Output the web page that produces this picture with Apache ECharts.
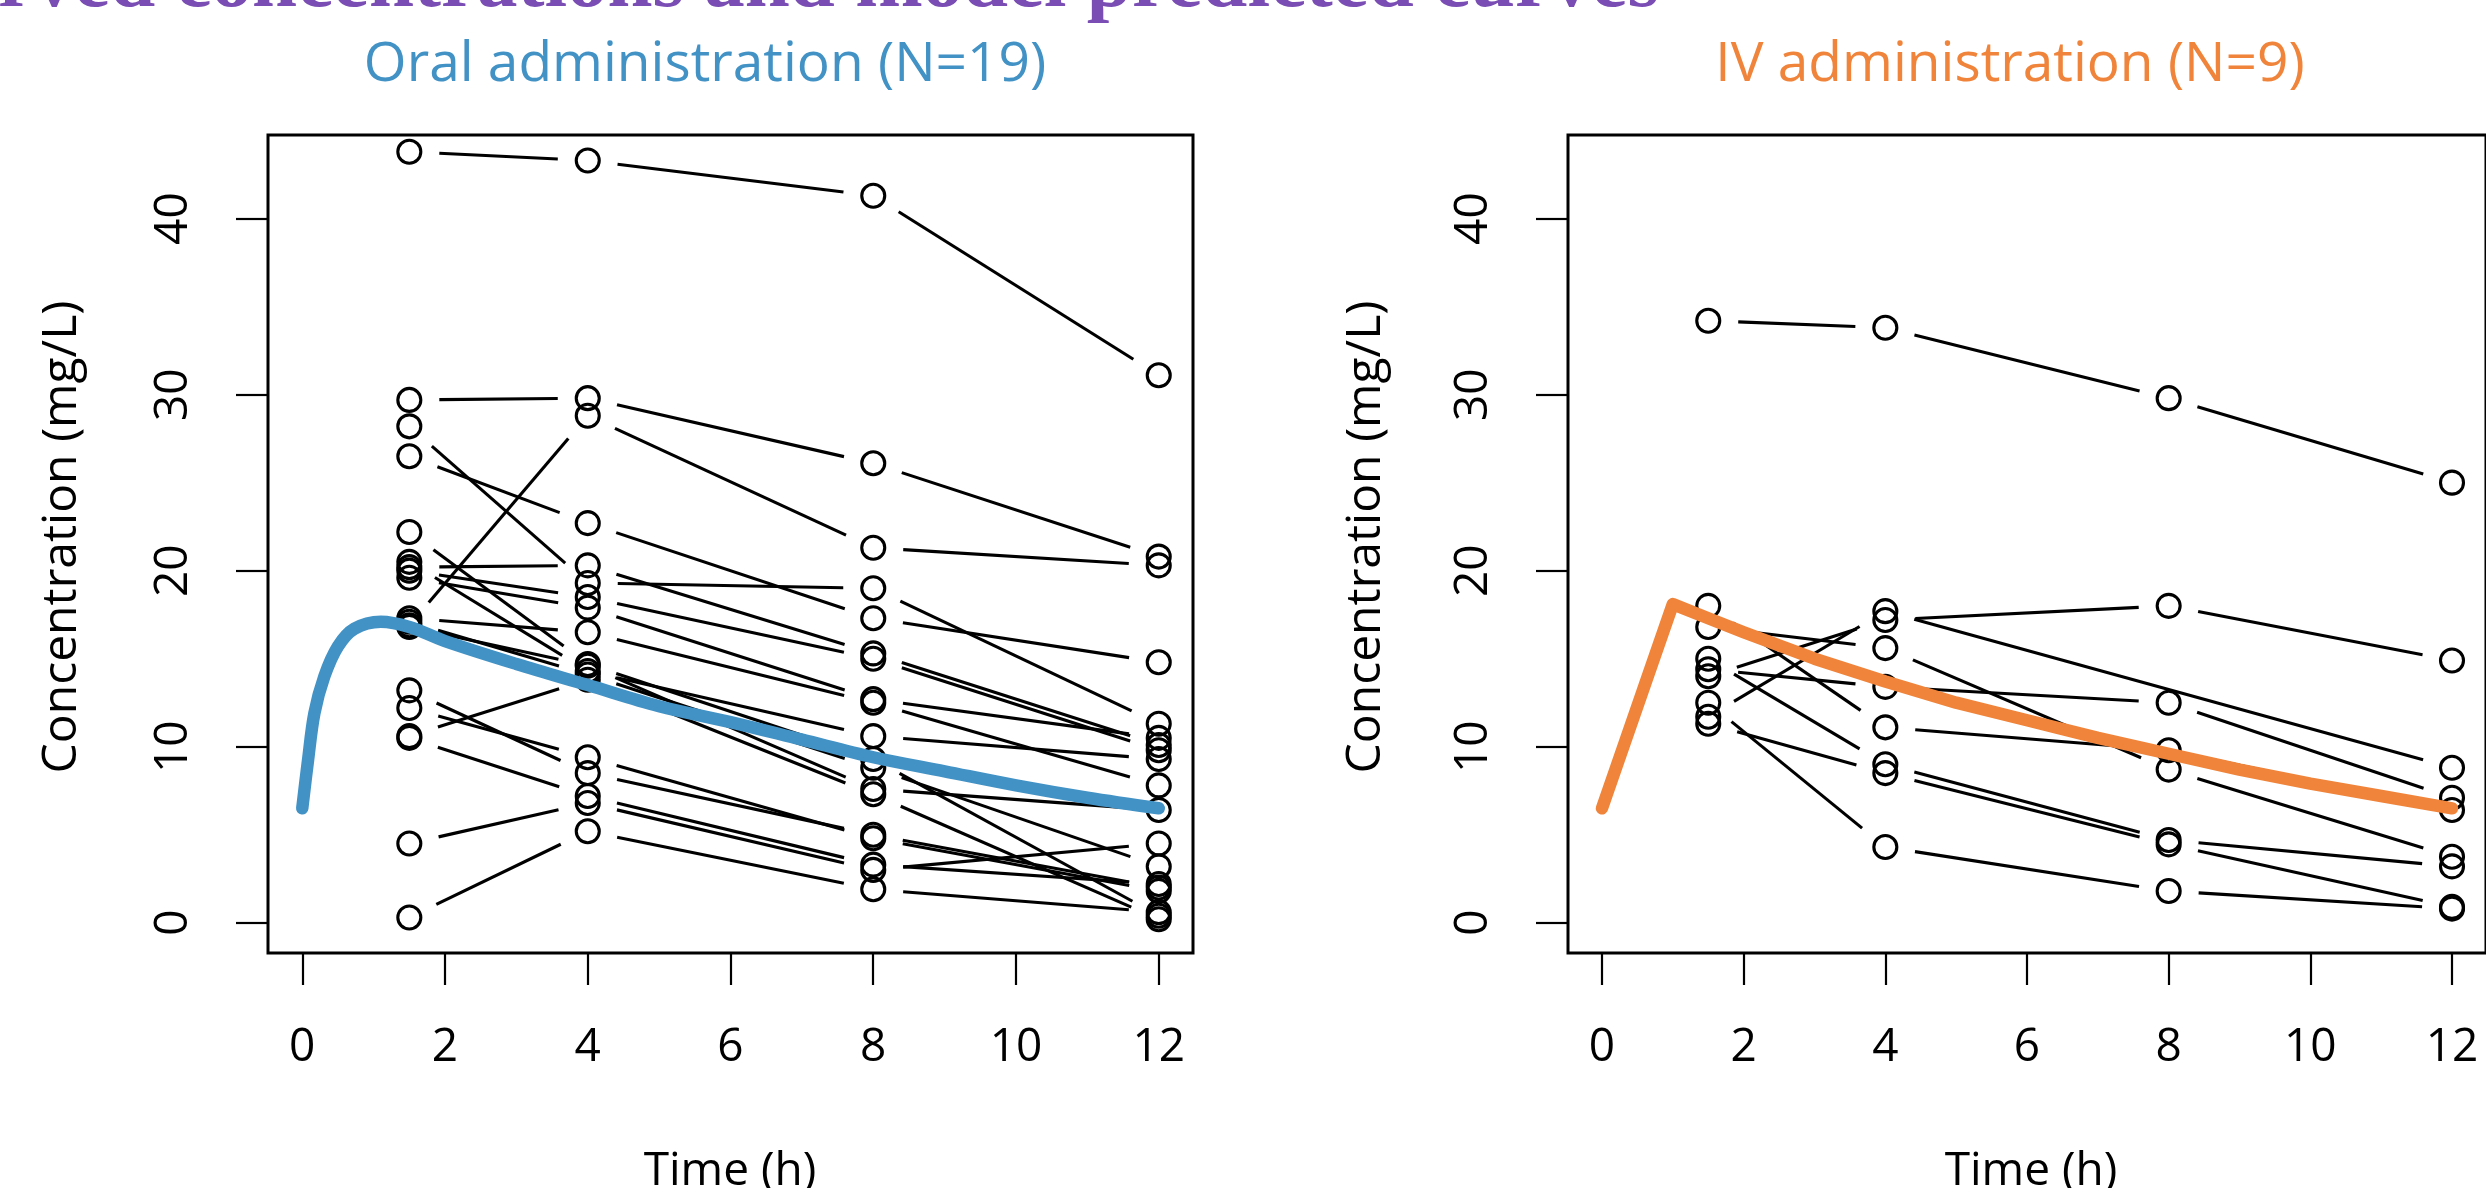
<!DOCTYPE html>
<html>
<head>
<meta charset="utf-8">
<script src="https://cdn.jsdelivr.net/npm/echarts@6/dist/echarts.min.js"></script>
<style>
html,body{margin:0;padding:0;background:#fff;}
#chart{width:2486px;height:1188px;}
</style>
</head>
<body>
<div id="chart"></div>
<script>
// ---------------- data ----------------
const sampleTimes = [1.5, 4, 8, 12];
const xTicks = [0, 2, 4, 6, 8, 10, 12];
const yTicks = [0, 10, 20, 30, 40];

// Oral administration, one entry per subject (19 subjects)
const oralAt1_5 = [43.8, 29.7, 28.2, 26.5, 22.2, 20.2, 20.0, 19.6, 20.5, 17.3, 16.9, 16.8, 13.2, 12.2, 10.6, 10.5, 4.5, 0.3, 17.1];
const oralAt4   = [43.3, 29.8, 19.3, 22.7, 14.7, 20.3, 18.5, 17.9, 14.3, 16.5, 28.8, 14.6, 8.5, 9.4, 13.8, 7.2, 6.8, 5.2, 14.1];
const oralAt8   = [41.3, 26.1, 19.0, 17.3, 9.3, 15.3, 15.0, 12.7, 10.6, 12.5, 21.3, 7.6, 5.0, 4.8, 7.3, 3.3, 3.0, 1.9, 8.8];
const oralAt12  = [31.1, 20.8, 11.3, 14.8, 0.4, 10.1, 9.8, 10.5, 9.3, 7.8, 20.3, 6.4, 2.0, 1.8, 0.2, 2.2, 4.5, 0.6, 3.2];

// IV administration (9 subjects); null = no sample
const ivAt1_5 = [34.2, 14.0, 11.7, 16.8, 14.4, 18.0, 15.0, 11.3, 12.5];
const ivAt4   = [33.8, 17.2, 17.7, 15.6, 13.4, 11.1, 9.0, 8.5, 4.3];
const ivAt8   = [29.8, 18.0, null, 8.7, 12.5, 9.8, 4.7, 4.45, 1.8];
const ivAt12  = [25.0, 14.9, 8.8, 3.75, 7.1, 6.4, 3.2, 0.9, 0.8];

// Model predicted curves
const oralModelTime = [0, 0.08, 0.17, 0.31, 0.5, 0.73, 1.1, 1.5, 2, 3, 4, 5, 6, 7, 8, 9, 10, 11, 12];
const oralModelConc = [6.5, 9.2, 11.9, 14.0, 15.7, 16.7, 17.1, 16.8, 16.0, 14.7, 13.5, 12.3, 11.4, 10.4, 9.4, 8.6, 7.8, 7.1, 6.5];
const ivModelTime = [0, 1, 1.5, 2, 3, 4, 5, 6, 7, 8, 9, 10, 11, 12];
const ivModelConc = [6.5, 18.1, 17.3, 16.5, 15.0, 13.7, 12.5, 11.5, 10.5, 9.6, 8.7, 7.9, 7.2, 6.5];

// ---------------- styling ----------------
const FONT = "'Open Sans', 'Noto Sans', sans-serif";
const BLUE = '#4292C6';
const ORANGE = '#F0843A';
const PURPLE = '#7A4DB4';
const GAP = 30;      // gap between line ends and points (type = "b")
const RADIUS = 11.5;
const STROKE = 3.1;

const oralCols = [oralAt1_5, oralAt4, oralAt8, oralAt12];
const ivCols = [ivAt1_5, ivAt4, ivAt8, ivAt12];

function subjectRenderer(cols) {
  return function (params, api) {
    const i = api.value(0);
    const pts = [];
    for (let k = 0; k < sampleTimes.length; k++) {
      const v = cols[k][i];
      if (v !== null && v !== undefined) pts.push(api.coord([sampleTimes[k], v]));
    }
    const children = [];
    for (let k = 0; k < pts.length - 1; k++) {
      const x1 = pts[k][0], y1 = pts[k][1], x2 = pts[k + 1][0], y2 = pts[k + 1][1];
      const dx = x2 - x1, dy = y2 - y1, d = Math.hypot(dx, dy);
      if (d > 2 * GAP) {
        const ux = dx / d, uy = dy / d;
        children.push({
          type: 'line',
          shape: { x1: x1 + ux * GAP, y1: y1 + uy * GAP, x2: x2 - ux * GAP, y2: y2 - uy * GAP },
          style: { stroke: '#000', lineWidth: STROKE, lineCap: 'butt' }
        });
      }
    }
    pts.forEach(p => children.push({
      type: 'circle',
      shape: { cx: p[0], cy: p[1], r: RADIUS },
      style: { fill: 'none', stroke: '#000', lineWidth: STROKE }
    }));
    return { type: 'group', children: children };
  };
}

function xAxisCfg(idx) {
  return {
    gridIndex: idx, type: 'value', min: -0.48, max: 12.48,
    axisLine: { show: false, onZero: false }, splitLine: { show: false },
    axisTick: { show: true, customValues: xTicks, length: 32, inside: false, lineStyle: { color: '#000', width: 2.2 } },
    axisLabel: { show: true, customValues: xTicks, fontSize: 46, fontFamily: FONT, color: '#000', margin: 72 }
  };
}
function yAxisCfg(idx) {
  return {
    gridIndex: idx, type: 'value', min: -1.72, max: 44.75,
    axisLine: { show: false, onZero: false }, splitLine: { show: false },
    axisTick: { show: true, customValues: yTicks, length: 32, inside: false, lineStyle: { color: '#000', width: 2.2 } },
    axisLabel: { show: true, customValues: yTicks, rotate: 90, fontSize: 46, fontFamily: FONT, color: '#000', margin: 71 }
  };
}

const chart = echarts.init(document.getElementById('chart'), null, { renderer: 'canvas' });

const option = {
  animation: false,
  backgroundColor: '#fff',
  grid: [
    { left: 268, top: 135, width: 925, height: 818, show: true, borderColor: '#000', borderWidth: 3, backgroundColor: 'transparent' },
    { left: 1568, top: 135, width: 925, height: 818, show: true, borderColor: '#000', borderWidth: 3, backgroundColor: 'transparent' }
  ],
  xAxis: [xAxisCfg(0), xAxisCfg(1)],
  yAxis: [yAxisCfg(0), yAxisCfg(1)],
  graphic: [
    { type: 'text', x: 1659, y: -15, z: 100,
      style: { text: 'Observed concentrations and model predicted curves', font: "bold 81px 'Liberation Serif', serif", fill: PURPLE, align: 'right', verticalAlign: 'middle' } },
    { type: 'text', x: 705, y: 65, z: 100,
      style: { text: 'Oral administration (N=19)', font: "55px " + FONT, fill: BLUE, align: 'center', verticalAlign: 'middle' } },
    { type: 'text', x: 2010, y: 65, z: 100,
      style: { text: 'IV administration (N=9)', font: "55px " + FONT, fill: ORANGE, align: 'center', verticalAlign: 'middle' } },
    { type: 'text', x: 62, y: 537, rotation: Math.PI / 2, z: 100,
      style: { text: 'Concentration (mg/L)', font: "48px " + FONT, fill: '#000', align: 'center', verticalAlign: 'middle' } },
    { type: 'text', x: 1366, y: 537, rotation: Math.PI / 2, z: 100,
      style: { text: 'Concentration (mg/L)', font: "48px " + FONT, fill: '#000', align: 'center', verticalAlign: 'middle' } },
    { type: 'text', x: 730, y: 1172, z: 100,
      style: { text: 'Time (h)', font: "46px " + FONT, fill: '#000', align: 'center', verticalAlign: 'middle' } },
    { type: 'text', x: 2031, y: 1172, z: 100,
      style: { text: 'Time (h)', font: "46px " + FONT, fill: '#000', align: 'center', verticalAlign: 'middle' } }
  ],
  series: [
    { type: 'custom', xAxisIndex: 0, yAxisIndex: 0, z: 2,
      renderItem: subjectRenderer(oralCols),
      data: oralAt1_5.map((_, i) => [i]), encode: { x: 0, y: 0 }, silent: true },
    { type: 'custom', xAxisIndex: 1, yAxisIndex: 1, z: 2,
      renderItem: subjectRenderer(ivCols),
      data: ivAt1_5.map((_, i) => [i]), encode: { x: 0, y: 0 }, silent: true },
    { type: 'line', xAxisIndex: 0, yAxisIndex: 0, z: 5, showSymbol: false, smooth: 0.35, silent: true,
      data: oralModelTime.map((t, i) => [t, oralModelConc[i]]),
      lineStyle: { color: BLUE, width: 12.5, cap: 'round', join: 'round' } },
    { type: 'line', xAxisIndex: 1, yAxisIndex: 1, z: 5, showSymbol: false, smooth: false, silent: true,
      data: ivModelTime.map((t, i) => [t, ivModelConc[i]]),
      lineStyle: { color: ORANGE, width: 12.5, cap: 'round', join: 'round' } }
  ]
};
chart.setOption(option);
</script>
</body>
</html>
